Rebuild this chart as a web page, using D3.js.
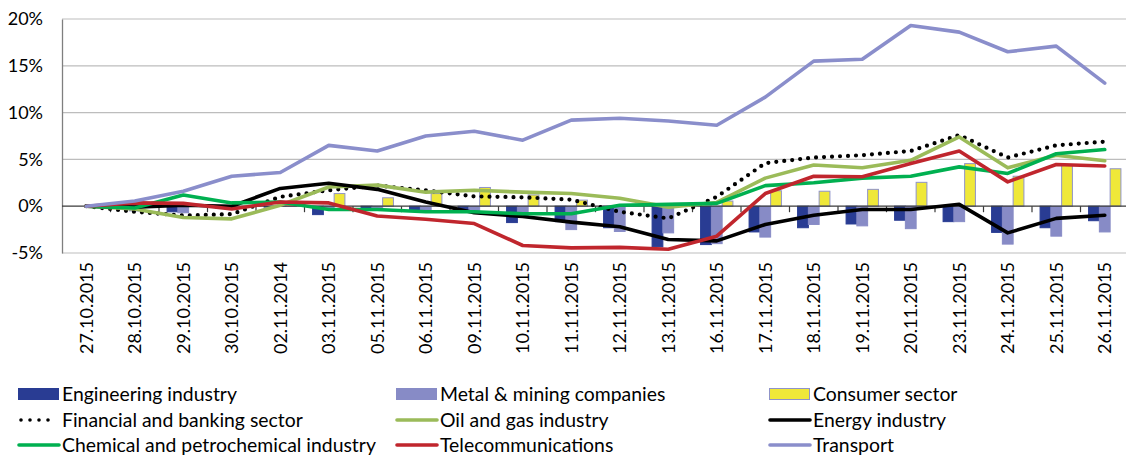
<!DOCTYPE html>
<html><head><meta charset="utf-8">
<script src="https://cdn.jsdelivr.net/npm/d3@7"></script>
<style>body{margin:0;background:#fff}text{font-family:Lato,"Open Sans",sans-serif;fill:#000}</style>
</head><body><svg id="c" width="1126" height="455"></svg>
<script>
const categories = ["27.10.2015","28.10.2015","29.10.2015","30.10.2015","02.11.2014","03.11.2015","05.11.2015","06.11.2015","09.11.2015","10.11.2015","11.11.2015","12.11.2015","13.11.2015","16.11.2015","17.11.2015","18.11.2015","19.11.2015","20.11.2015","23.11.2015","24.11.2015","25.11.2015","26.11.2015"];
const engineering = [0,-0.1,-0.6,-0.2,-0.1,-0.9,-0.4,-0.5,-0.45,-1.75,-1.65,-2.3,-4.35,-4.1,-2.75,-2.3,-1.9,-1.5,-1.65,-2.8,-2.3,-1.55];
const metal = [0,-0.5,-0.7,-0.3,0.1,-0.3,-0.4,-0.45,-0.45,-1.15,-2.5,-2.7,-2.85,-4.0,-3.3,-1.95,-2.1,-2.4,-1.65,-4.05,-3.2,-2.75];
const consumer = [0,0,0,0,0.2,1.35,0.9,1.35,2.0,1.2,0.65,0,0.3,0.55,1.65,1.6,1.8,2.55,4.55,3.2,4.4,4.0];
const financial = [0,-0.6,-1.0,-0.85,1.0,1.7,2.2,1.7,1.05,0.95,0.7,-0.6,-1.3,1.0,4.6,5.2,5.45,5.9,7.6,5.2,6.5,6.9];
const oilgas = [0,-0.3,-1.2,-1.35,0.1,2.05,2.25,1.5,1.7,1.5,1.35,0.85,-0.1,0.4,3.0,4.4,4.1,4.9,7.4,4.1,5.45,4.85];
const energy = [0,-0.1,0.1,0,1.9,2.45,1.8,0.45,-0.7,-1.1,-1.7,-2.2,-3.55,-3.7,-1.95,-0.96,-0.35,-0.35,0.2,-2.85,-1.3,-0.96];
const chemical = [0,-0.2,1.2,0.35,0.45,-0.35,-0.35,-0.6,-0.6,-0.8,-0.8,0.1,0.2,0.3,2.2,2.5,3.0,3.2,4.2,3.5,5.6,6.05];
const telecom = [0,0.35,0.3,-0.3,0.45,0.35,-1.05,-1.4,-1.85,-4.2,-4.45,-4.4,-4.6,-3.2,1.35,3.2,3.15,4.55,5.9,2.6,4.45,4.3];
const transport = [0,0.56,1.6,3.2,3.6,6.5,5.9,7.5,8.0,7.05,9.2,9.4,9.1,8.65,11.65,15.5,15.7,19.3,18.6,16.5,17.1,13.15];
const yTicks = [-5,0,5,10,15,20];

const svg = d3.select("#c");
const x = d3.scaleBand().domain(categories).range([62,1129]).padding(0);
const y = d3.scaleLinear().domain([-5,20]).range([253,19]);
const barSeries = [
  {name:"Engineering industry", vals:engineering, fill:"#293c93", stroke:"#293c93"},
  {name:"Metal & mining companies", vals:metal, fill:"#878bc6", stroke:"#878bc6"},
  {name:"Consumer sector", vals:consumer, fill:"#efe839", stroke:"#8f93c9"}
];
const inner = d3.scaleBand().domain(barSeries.map(d=>d.name)).range([-x.bandwidth()/3, x.bandwidth()/3]);

svg.append("g").selectAll("line").data(yTicks.filter(t=>t!==0)).join("line")
  .attr("x1",62).attr("x2",1129).attr("y1",d=>y(d)).attr("y2",d=>y(d))
  .attr("stroke","#bdbdbd").attr("stroke-width",1.2);

const yAxis = d3.axisLeft(y).tickValues(yTicks).tickFormat(d=>d+"%").tickSize(0).tickPadding(19);
const ga = svg.append("g").attr("transform","translate(62,0)").call(yAxis);
ga.select(".domain").attr("stroke","#7f7f7f").attr("stroke-width",1.3);
ga.selectAll("text").style("font-size","18px").style("font-family","Lato");

barSeries.forEach(s=>{
  svg.append("g").selectAll("rect").data(categories).join("rect")
    .attr("x",(c)=>x(c)+x.bandwidth()/2+inner(s.name))
    .attr("width",inner.bandwidth())
    .attr("y",(c,i)=>Math.min(y(s.vals[i]),y(0)))
    .attr("height",(c,i)=>Math.abs(y(s.vals[i])-y(0)))
    .attr("fill",s.fill).attr("stroke",s.stroke).attr("stroke-width",1);
});

const gx = svg.append("g").attr("transform",`translate(0,${y(0)})`);
gx.append("line").attr("x1",62).attr("x2",1129).attr("stroke","#3a3a3a").attr("stroke-width",1.3);
gx.selectAll("line.t").data(d3.range(1,categories.length)).join("line").attr("class","t")
  .attr("x1",i=>62+i*x.step()).attr("x2",i=>62+i*x.step()).attr("y1",0).attr("y2",6)
  .attr("stroke","#3a3a3a").attr("stroke-width",1.2);

svg.append("g").selectAll("text").data(categories).join("text")
  .attr("transform",c=>`translate(${x(c)+x.bandwidth()/2},262) rotate(-90)`)
  .attr("text-anchor","end").attr("dy","0.36em").style("font-size","18px").text(c=>c);

const lineSeries = [
  {name:"Financial and banking sector", vals:financial, color:"#000", dotted:true},
  {name:"Oil and gas industry", vals:oilgas, color:"#9bbb59"},
  {name:"Energy industry", vals:energy, color:"#000"},
  {name:"Chemical and petrochemical industry", vals:chemical, color:"#00b050"},
  {name:"Telecommunications", vals:telecom, color:"#c0262d"},
  {name:"Transport", vals:transport, color:"#8a8ecb"}
];
const line = d3.line().x((d,i)=>x(categories[i])+x.bandwidth()/2).y(d=>y(d));
lineSeries.forEach(s=>{
  const p = svg.append("path").attr("d",line(s.vals)).attr("fill","none")
    .attr("stroke",s.color).attr("stroke-linejoin","round");
  if(s.dotted){p.attr("stroke-width",4.2).attr("stroke-dasharray","0 8").attr("stroke-linecap","round");}
  else p.attr("stroke-width",3.6).attr("stroke-linecap","round");
});

const legend = [
  {type:"bar", s:barSeries[0], col:0,row:0},
  {type:"bar", s:barSeries[1], col:1,row:0},
  {type:"bar", s:barSeries[2], col:2,row:0},
  {type:"line", s:lineSeries[0], col:0,row:1},
  {type:"line", s:lineSeries[1], col:1,row:1},
  {type:"line", s:lineSeries[2], col:2,row:1},
  {type:"line", s:lineSeries[3], col:0,row:2},
  {type:"line", s:lineSeries[4], col:1,row:2},
  {type:"line", s:lineSeries[5], col:2,row:2}
];
const colX = [18,396,769], rowY = [394,420,445];
const lg = svg.append("g");
legend.forEach(it=>{
  const x0 = colX[it.col], yy = rowY[it.row];
  if(it.type==="bar"){
    lg.append("rect").attr("x",x0+0.5).attr("y",yy-5.5).attr("width",40).attr("height",11)
      .attr("fill",it.s.fill).attr("stroke",it.s.stroke).attr("stroke-width",1);
  } else if(it.s.dotted){
    lg.append("line").attr("x1",x0+3).attr("x2",x0+39).attr("y1",yy).attr("y2",yy)
      .attr("stroke","#000").attr("stroke-width",3.6).attr("stroke-dasharray","0 9").attr("stroke-linecap","round");
  } else {
    lg.append("line").attr("x1",x0+1).attr("x2",x0+41).attr("y1",yy).attr("y2",yy)
      .attr("stroke",it.s.color).attr("stroke-width",3.6).attr("stroke-linecap","round");
  }
  lg.append("text").attr("x",x0+44).attr("y",yy).attr("dy","0.35em").style("font-size","19.4px").text(it.s.name);
});
</script></body></html>
